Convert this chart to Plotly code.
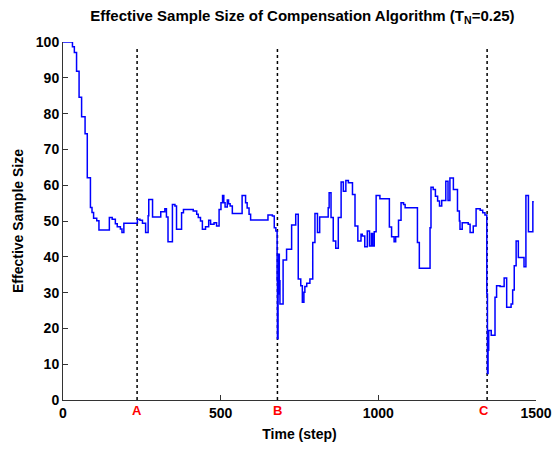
import plotly.graph_objects as go

# Step series: time step where a new value starts, and the value
steps = [0, 30, 36, 43, 51, 59, 70, 77, 87, 92, 97, 107, 114, 147, 156, 166, 172, 182, 187, 193,
         236, 244, 252, 262, 270, 272, 284, 310, 323, 328, 333, 347, 355, 360, 376, 382, 413, 424,
         429, 436, 442, 452, 462, 468, 479, 487, 495, 501, 506, 510, 514, 521, 525, 530, 537, 568,
         579, 584, 590, 595, 650, 664, 670, 675, 679, 680, 682, 684, 686, 688, 698, 709, 725, 738,
         746, 754, 759, 764, 767, 773, 783, 792, 799, 807, 814, 841, 844, 850, 857, 865, 873, 882,
         889, 897, 905, 918, 926, 935, 945, 949, 957, 965, 972, 978, 982, 987, 993, 1005, 1035,
         1042, 1050, 1055, 1064, 1072, 1080, 1085, 1124, 1130, 1164, 1167, 1174, 1181, 1188, 1194,
         1201, 1214, 1221, 1227, 1238, 1251, 1257, 1259, 1266, 1285, 1291, 1301, 1310, 1323, 1331,
         1338, 1344, 1346, 1348, 1350, 1358, 1370, 1375, 1386, 1399, 1407, 1421, 1426, 1431, 1437,
         1444, 1462, 1468, 1476, 1490, 1493]
ess = [100, 98.7, 97.1, 91.8, 84.6, 79.1, 74.4, 62.1, 53.8, 52.4, 50.8, 50.1, 47.5, 51.0, 50.5,
       49.2, 48.4, 47.8, 46.8, 49.4,
       50.5, 50.2, 49.4, 46.8, 51.5, 56.0, 51.1, 52.6, 53.4, 51.1, 44.2, 54.6, 54.2, 47.7, 52.3,
       53.2, 52.8, 51.9, 51.0, 50.0, 47.7, 48.4, 50.2, 49.1, 49.5, 48.6, 53.2, 55.1, 57.1, 55.1,
       53.9, 55.9, 54.8, 54.2, 52.1, 57.1, 55.1, 53.6, 51.9, 50.3, 51.7, 51.4, 48.1, 47.2, 33.3,
       17.1, 29.6, 40.7, 33.3, 26.8, 39.1, 42.1, 48.9, 51.9, 33.8, 31.9, 27.3, 30.1, 31.7, 32.6,
       33.8, 44.0, 52.1, 46.8, 51.1, 53.7, 57.9, 51.0, 44.4, 42.4, 51.0, 60.9, 58.3, 61.3, 60.7,
       57.4, 48.6, 44.4, 46.3, 45.8, 42.8, 47.2, 43.0, 46.5, 43.0, 47.0, 57.1, 56.2, 48.3, 45.6,
       44.2, 45.6, 50.2, 55.1, 54.6, 53.7, 44.0, 36.8, 48.1, 59.4, 58.8, 56.9, 55.6, 54.2, 55.7,
       61.1, 55.7, 62.0, 58.8, 52.8, 50.0, 47.7, 49.5, 49.1, 46.8, 48.6, 53.4, 53.0, 52.3, 51.7,
       29.6, 7.4, 13.9, 19.4, 18.1, 28.7, 31.9, 31.7, 34.1, 25.9, 26.8, 30.7, 37.5, 44.4, 39.8,
       37.2, 57.1, 47.0, 55.4, 55.4]

event_steps = [235, 680, 1345]
event_labels = ["A", "B", "C"]
event_top = 98.5

x_ticks = [0, 500, 1000, 1500]
y_ticks = list(range(0, 101, 10))

FONT = "Liberation Sans"

fig = go.Figure()
for xe in event_steps:
    fig.add_trace(go.Scatter(x=[xe, xe], y=[0, event_top], mode="lines",
                             line=dict(color="black", width=1.5, dash="3px,3px"),
                             showlegend=False, hoverinfo="skip"))
fig.add_trace(go.Scatter(x=steps, y=ess, mode="lines", line_shape="hv",
                         line=dict(color="#0000ff", width=1.5), showlegend=False))

for xe, lab in zip(event_steps, event_labels):
    fig.add_annotation(x=xe, y=0, xref="x", yref="paper", text="<b>%s</b>" % lab,
                       showarrow=False, yanchor="top", yshift=-1,
                       xshift=-3 if lab == "C" else 0,
                       font=dict(family=FONT, size=13, color="#ff0000"))

fig.update_layout(
    width=555, height=450,
    margin=dict(l=63, r=19, t=42, b=50),
    paper_bgcolor="white", plot_bgcolor="white",
    title=dict(text="<b>Effective Sample Size of Compensation Algorithm (T<sub>N</sub>=0.25)</b>",
               x=0.545, xanchor="center", y=0.965, yanchor="middle",
               font=dict(family=FONT, size=15, color="black")),
    font=dict(family=FONT, size=14, color="black"),
)
fig.update_xaxes(range=[0, 1500], tickvals=x_ticks, automargin=False,
                 ticktext=["<b>%d</b>" % v for v in x_ticks],
                 ticks="inside", ticklen=5, tickcolor="#333", tickwidth=1,
                 showline=True, linecolor="#333", linewidth=1, showgrid=False, zeroline=False,
                 title=dict(text="<b>Time (step)</b>", standoff=9, font=dict(size=14)),
                 tickfont=dict(size=14))
fig.update_yaxes(range=[0, 100], tickvals=y_ticks, automargin=False,
                 ticktext=["<b>%d</b>" % v for v in y_ticks],
                 ticks="inside", ticklen=5, tickcolor="#333", tickwidth=1,
                 showline=True, linecolor="#333", linewidth=1, showgrid=False, zeroline=False,
                 title=dict(text="<b>Effective Sample Size</b>", standoff=8, font=dict(size=14)),
                 tickfont=dict(size=14))

fig.write_html("out.html")
